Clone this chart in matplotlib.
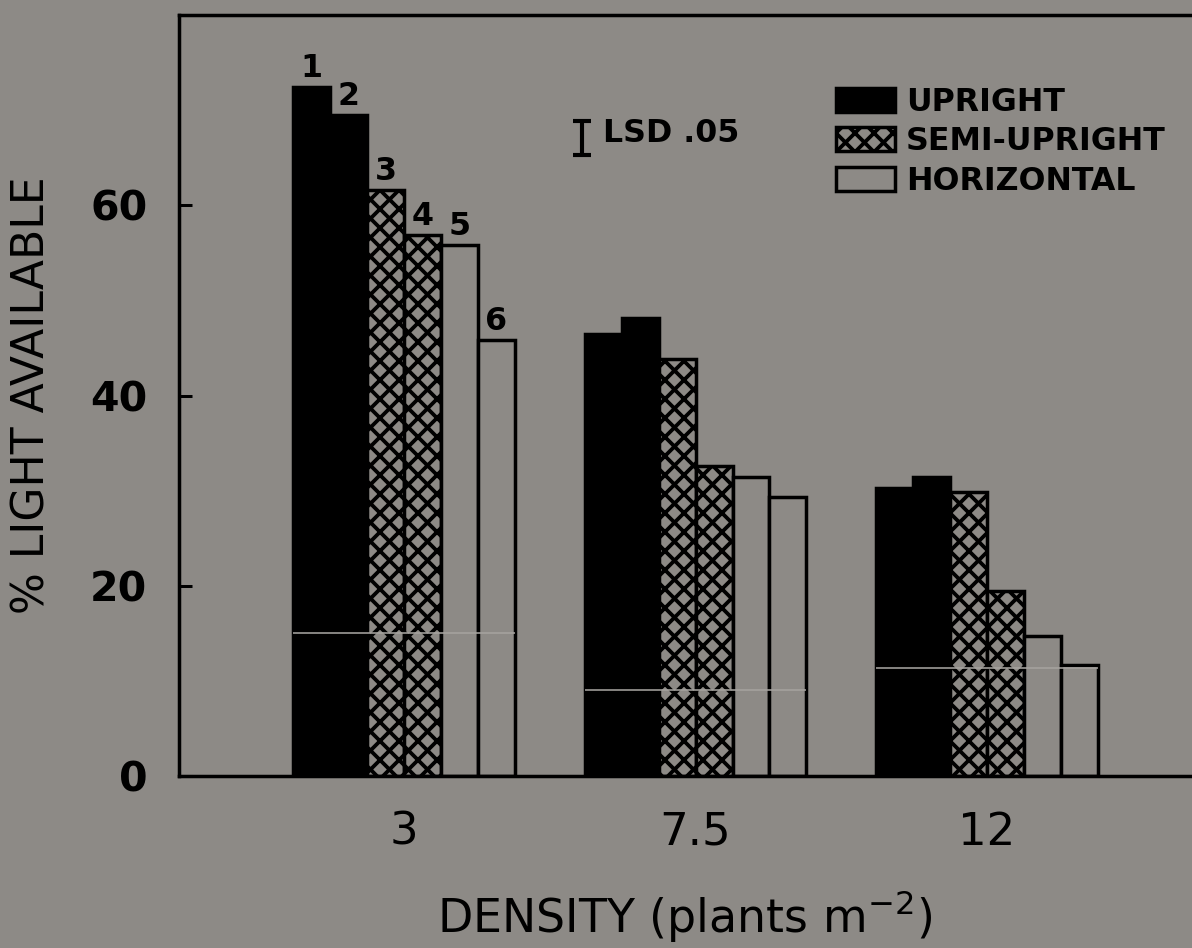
import matplotlib
matplotlib.use("Agg")
import numpy as np
import matplotlib.pyplot as plt
from matplotlib.patches import Patch

# ---- data -------------------------------------------------------------
densities = ["3", "7.5", "12"]
bar_ids = ["1", "2", "3", "4", "5", "6"]
bar_types = ["UPRIGHT", "UPRIGHT", "SEMI-UPRIGHT", "SEMI-UPRIGHT",
             "HORIZONTAL", "HORIZONTAL"]
light_d3 = [72.4, 69.5, 61.6, 56.9, 55.8, 45.8]
light_d75 = [46.5, 48.1, 43.8, 32.6, 31.4, 29.3]
light_d12 = [30.3, 31.4, 29.9, 19.4, 14.7, 11.7]
lower_level = [15.0, 9.0, 11.4]
lsd_05 = 3.6
y_ticks = [0, 20, 40, 60]

# ---- style ------------------------------------------------------------
BG = "#8d8a86"
DPI = 114
plt.rcParams["font.family"] = ["DejaVu Sans"]
plt.rcParams["mathtext.fontset"] = "dejavusans"
plt.rcParams["hatch.linewidth"] = 2.4
plt.rcParams["hatch.color"] = "black"

fig = plt.figure(figsize=(1192 / DPI, 948 / DPI), dpi=DPI, facecolor=BG)
ax = fig.add_axes([0.15017, 0.18143, 0.88171, 0.80274], facecolor=BG)

styles = {
    "UPRIGHT": dict(facecolor="black", edgecolor="black"),
    "SEMI-UPRIGHT": dict(facecolor=BG, edgecolor="black", hatch="xx"),
    "HORIZONTAL": dict(facecolor=BG, edgecolor="black"),
}

x = np.arange(len(densities))
width = 0.1269
values = np.array([light_d3, light_d75, light_d12])  # groups x bars

for i, kind in enumerate(bar_types):
    off = (i - 2.5) * width
    ax.bar(x + off, values[:, i], width, linewidth=2.2, zorder=2,
           **styles[kind])

# faint level line running across each group of bars
for g, lvl in enumerate(lower_level):
    ax.hlines(lvl, x[g] - 3 * width, x[g] + 3 * width, colors="#a6a39f",
              linewidth=1.0, zorder=3)

# bar numbers above the lowest-density group
for i, lab in enumerate(bar_ids):
    off = (i - 2.5) * width
    ax.annotate(lab, (x[0] + off, light_d3[i]), xytext=(0, 6.3),
                textcoords="offset points", ha="center", va="baseline",
                fontsize=20, fontweight="bold", color="black")

# LSD bar
ax.errorbar(0.6106, 67.1, yerr=lsd_05 / 2, fmt="none", ecolor="black",
            elinewidth=2.6, capsize=5.4, capthick=2.6, zorder=4)
ax.text(0.6827, 66.6, "LSD .05", fontsize=20, fontweight="bold",
        ha="left", va="baseline", color="black")

# legend
handles = [Patch(label=k, linewidth=2.2, **styles[k])
           for k in ["UPRIGHT", "SEMI-UPRIGHT", "HORIZONTAL"]]
leg = ax.legend(handles=handles, loc="center left",
                bbox_to_anchor=(836 / 1192, 1 - 142 / 948),
                bbox_transform=fig.transFigure, frameon=False,
                borderpad=0, borderaxespad=0, handlelength=1.86,
                handleheight=0.79, handletextpad=0.35, labelspacing=0.28,
                prop=dict(size=20, weight="bold"))

# axes
ax.set_xlim(-0.7719, 2.8336)
ax.set_ylim(0, 80)
ax.set_xticks(x)
ax.set_xticklabels(densities, fontsize=28.4)
ax.set_yticks(y_ticks)
ax.set_yticklabels([str(t) for t in y_ticks], fontsize=26, fontweight="bold")
ax.tick_params(axis="x", length=0, pad=22)
ax.tick_params(axis="y", direction="in", length=8.2, width=1.9, pad=20)

for side in ["left", "bottom", "top"]:
    ax.spines[side].set_linewidth(2.2)
ax.spines["right"].set_visible(False)

ax.set_ylabel("% LIGHT AVAILABLE", fontsize=27.8)
ax.yaxis.label.set_va("center")
ax.yaxis.set_label_coords((32 - 179) / 1051, 0.5)

ax.set_xlabel("DENSITY (plants m$^{-2}$)", fontsize=29)
ax.xaxis.label.set_ha("left")
ax.xaxis.label.set_va("baseline")
ax.xaxis.set_label_coords((437 - 179) / 1051, -0.205)

fig.savefig("out.png", dpi=DPI, facecolor=BG)
